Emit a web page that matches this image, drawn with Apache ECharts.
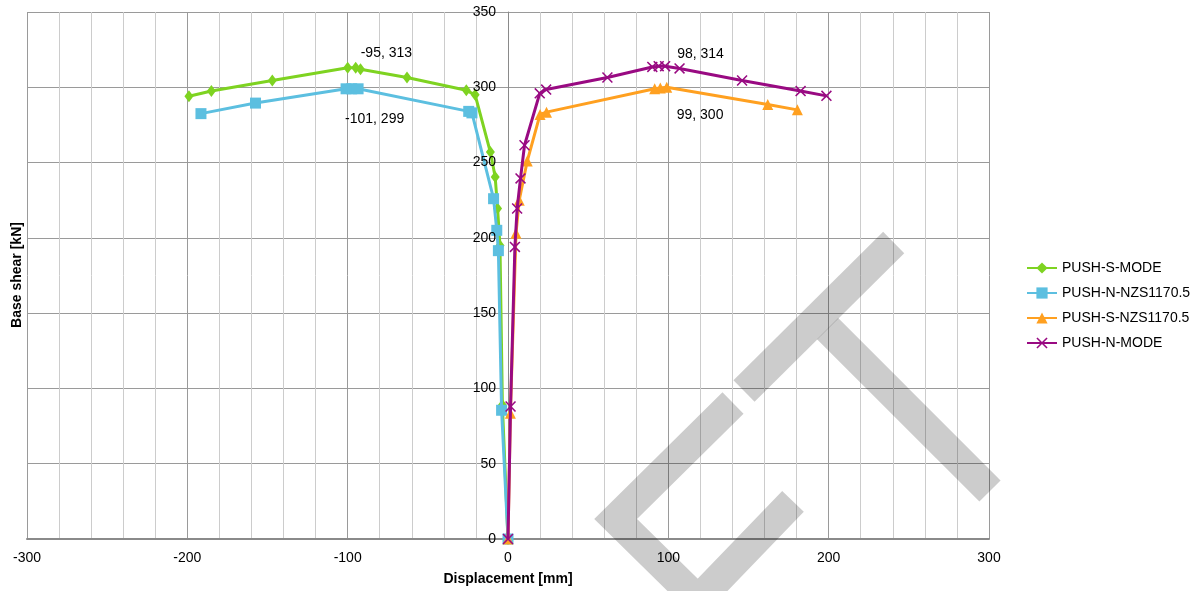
<!DOCTYPE html>
<html>
<head>
<meta charset="utf-8">
<script src="https://cdn.jsdelivr.net/npm/echarts@6/dist/echarts.min.js"></script>
<style>
  html, body { margin: 0; padding: 0; background: #fff; }
  #chart { width: 1202px; height: 591px; }
</style>
</head>
<body>
<div id="chart"></div>
<script>
// Pushover curves: displacement [mm] vs base shear [kN]
const seriesNames = ['PUSH-S-MODE', 'PUSH-N-NZS1170.5', 'PUSH-S-NZS1170.5', 'PUSH-N-MODE'];

const pushSMode = [
  [0, 0], [-3.5, 89], [-5, 195], [-6.5, 219.5], [-8, 240.5], [-11, 257],
  [-20.5, 295], [-26, 298], [-63, 306.5], [-92, 312], [-95, 313], [-100, 313],
  [-147, 304.5], [-185, 297.5], [-199, 294]
];
const pushNNzs = [
  [0, 0], [-4, 85.5], [-6, 191.5], [-7, 205], [-9, 226], [-22.5, 283],
  [-24.5, 284], [-93.5, 299], [-97.5, 299], [-101, 299], [-157.5, 289.5], [-191.5, 282.5]
];
const pushSNzs = [
  [0, 0], [1.5, 83.5], [5, 203], [7, 225], [12, 251], [20, 282],
  [24, 283.5], [91.5, 299], [95, 299.5], [99, 300], [162, 288.5], [180.5, 285]
];
const pushNMode = [
  [0, 0], [1.6, 88], [4.3, 194], [5.7, 219.5], [7.8, 239.5], [10.3, 261.5],
  [19.8, 296], [23.8, 298.5], [62, 306.5], [90, 313.5], [94, 314], [98, 314],
  [107, 312.5], [146, 304.5], [182.5, 297.5], [198.6, 294.3]
];

// Peak points that carry a value label, and label offsets from the marker
const peakLabels = [
  { series: 0, point: [-95, 313], offset: [5, -15] },
  { series: 1, point: [-101, 299], offset: [-1, 30] },
  { series: 2, point: [99, 300], offset: [10, 28] },
  { series: 3, point: [98, 314], offset: [12, -12] }
];

const colors = ['#7ed321', '#5cbfe0', '#ffa020', '#990a82'];
const symbols = [
  'diamond',
  'rect',
  'triangle',
  'path://M0,1L1,0L5,4L9,0L10,1L6,5L10,9L9,10L5,6L1,10L0,9L4,5Z'
];
const symbolSizes = [[9, 12], 11, 11, 11];
const allData = [pushSMode, pushNNzs, pushSNzs, pushNMode];

const FONT = '"Liberation Sans", Arial, sans-serif';

// plot area
const GRID = { left: 27, right: 213, top: 12, bottom: 52 };
const CHART_W = 1202;
// the value axis is drawn through x = 0, i.e. the middle of the symmetric x range
const Y_AXIS_SHIFT = (CHART_W - GRID.left - GRID.right) / 2;

function buildData(idx) {
  return allData[idx].map(function (p) {
    const lab = peakLabels.find(function (l) {
      return l.series === idx && l.point[0] === p[0] && l.point[1] === p[1];
    });
    if (!lab) return p;
    return {
      value: p,
      label: {
        show: true,
        position: 'inside',
        align: 'left',
        verticalAlign: 'middle',
        offset: lab.offset,
        formatter: function (prm) { return prm.value[0] + ', ' + prm.value[1]; },
        color: '#000',
        fontFamily: FONT,
        fontSize: 14
      }
    };
  });
}

const yBase = {
  type: 'value',
  min: 0,
  max: 350,
  interval: 50,
  position: 'left',
  offset: -Y_AXIS_SHIFT
};

const chart = echarts.init(document.getElementById('chart'), null, { renderer: 'canvas' });

chart.setOption({
  animation: false,
  backgroundColor: '#ffffff',
  textStyle: { fontFamily: FONT },
  grid: {
    left: GRID.left, right: GRID.right, top: GRID.top, bottom: GRID.bottom,
    outerBoundsMode: 'none'
  },
  legend: {
    orient: 'vertical',
    left: 1021,
    top: 256,
    itemWidth: 30,
    itemHeight: 14,
    itemGap: 11,
    textStyle: { fontFamily: FONT, fontSize: 14, color: '#000' },
    data: seriesNames
  },
  xAxis: {
    type: 'value',
    min: -300,
    max: 300,
    interval: 100,
    name: 'Displacement [mm]',
    nameLocation: 'middle',
    nameGap: 33,
    nameTextStyle: { fontFamily: FONT, fontSize: 14, fontWeight: 'bold', color: '#000' },
    axisLine: { onZero: false, lineStyle: { color: '#8a8a8a', width: 2 } },
    axisTick: { show: false },
    axisLabel: { margin: 12, fontFamily: FONT, fontSize: 14, color: '#000' },
    splitLine: { show: true, lineStyle: { color: '#9a9a9a', width: 1 } },
    minorTick: { show: false, splitNumber: 5 },
    minorSplitLine: { show: true, lineStyle: { color: '#cccccc', width: 1 } }
  },
  yAxis: [
    Object.assign({}, yBase, {
      axisLine: { show: true, onZero: false, lineStyle: { color: '#8a8a8a', width: 1 } },
      axisTick: { show: false },
      axisLabel: { show: false },
      splitLine: { show: true, lineStyle: { color: '#9a9a9a', width: 1 } }
    }),
    // tick labels of the value axis, kept above the curves
    Object.assign({}, yBase, {
      z: 20,
      axisLine: { show: false, onZero: false },
      axisTick: { show: false },
      splitLine: { show: false },
      axisLabel: { margin: 12, fontFamily: FONT, fontSize: 14, color: '#000' }
    })
  ],
  graphic: [
    {
      type: 'text',
      x: 17.5, y: 275,
      rotation: Math.PI / 2,
      style: {
        text: 'Base shear [kN]',
        font: 'bold 14px ' + FONT,
        fill: '#000',
        align: 'center',
        verticalAlign: 'middle'
      }
    },
    // grey "CT" stamp drawn over the plot
    {
      type: 'polyline',
      z: 100,
      shape: { points: [[733, 403], [615.6, 519], [698, 600], [793, 501.3]] },
      style: { stroke: 'rgba(0,0,0,0.2)', lineWidth: 30, fill: null, lineJoin: 'miter', lineCap: 'butt' },
      silent: true
    },
    {
      type: 'polyline',
      z: 100,
      shape: { points: [[744, 391], [893.7, 242.5]] },
      style: { stroke: 'rgba(0,0,0,0.2)', lineWidth: 30, fill: null, lineCap: 'butt' },
      silent: true
    },
    {
      type: 'polyline',
      z: 100,
      shape: { points: [[827.6, 328.6], [990, 491]] },
      style: { stroke: 'rgba(0,0,0,0.2)', lineWidth: 30, fill: null, lineCap: 'butt' },
      silent: true
    }
  ],
  series: seriesNames.map(function (name, i) {
    return {
      name: name,
      type: 'line',
      yAxisIndex: 0,
      data: buildData(i),
      color: colors[i],
      symbol: symbols[i],
      symbolSize: symbolSizes[i],
      showAllSymbol: true,
      lineStyle: { width: 3, color: colors[i] },
      itemStyle: { color: colors[i] },
      emphasis: { disabled: true },
      z: 2 + i
    };
  })
});
</script>
</body>
</html>
